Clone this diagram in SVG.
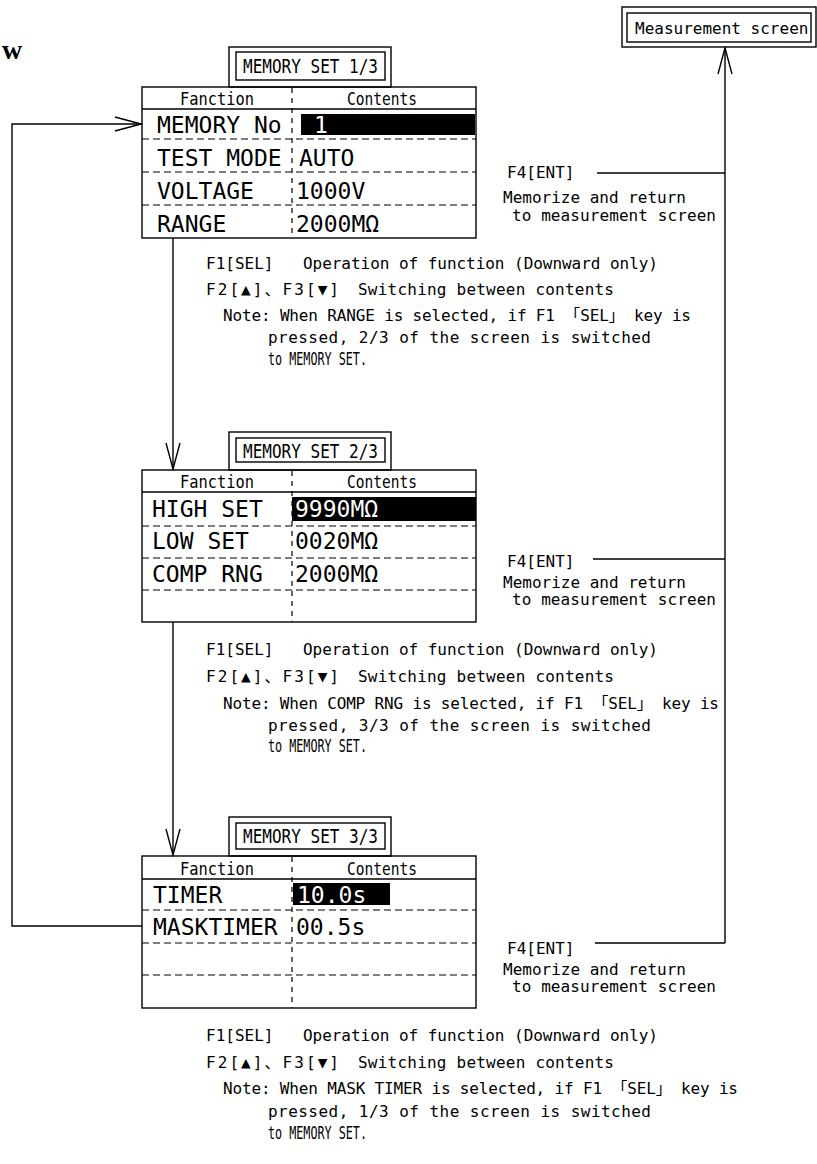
<svg xmlns="http://www.w3.org/2000/svg" width="817" height="1164" viewBox="0 0 817 1164">
<style>
text{font-family:"DejaVu Sans Mono","Liberation Mono","Noto Sans CJK JP",monospace;fill:#000}
.s{font-size:16px}
.t{font-size:20px}
.h{font-size:18px}
.b{font-size:23px}
.m{font-size:18px}
.w{fill:#fff}
.ln{stroke:#000;stroke-width:1.4;fill:none}
.dh{stroke:#000;stroke-width:1.2;stroke-dasharray:7 4;fill:none}
.dv{stroke:#000;stroke-width:1.2;stroke-dasharray:5 5;fill:none}
.hl{fill:#000}
</style>
<defs>
<marker id="ar" viewBox="-28 -10 30 20" refX="0" refY="0" markerWidth="30" markerHeight="20" markerUnits="userSpaceOnUse" orient="auto">
<path d="M-26,-7 L0,0 L-26,7" stroke="#000" stroke-width="1.4" fill="none"/>
</marker>
</defs>
<rect width="817" height="1164" fill="#fff"/>
<text x="2" y="59" style="font-family:'Liberation Serif',serif;font-weight:bold;font-size:28px">w</text>

<g id="connectors">
<path class="ln" d="M142,926 H12 V124 H141" marker-end="url(#ar)"/>
<path class="ln" d="M173,238 V469" marker-end="url(#ar)"/>
<path class="ln" d="M173,622 V855" marker-end="url(#ar)"/>
<path class="ln" d="M725,943 V48" marker-end="url(#ar)"/>
<path class="ln" d="M597,173 H725 M593,559 H725 M595,943 H725"/>
</g>

<g id="measurement-screen">
<rect class="ln" x="622" y="7" width="194" height="40"/>
<rect class="ln" x="627" y="13" width="184" height="29"/>
<text class="s" x="635" y="34">Measurement screen</text>
</g>

<g id="memory-set-1">
<rect class="ln" x="229" y="47" width="162" height="40"/>
<rect class="ln" x="236" y="52" width="149" height="28"/>
<text class="t" x="243" y="73" textLength="135" lengthAdjust="spacingAndGlyphs">MEMORY SET 1/3</text>
<rect class="ln" x="142" y="87" width="334" height="151"/>
<path class="ln" d="M142,109 H476"/>
<path class="dh" d="M142,139 H476 M142,172 H476 M142,205 H476"/>
<path class="dv" d="M292,88 V238"/>
<text class="h" x="180" y="105" textLength="74" lengthAdjust="spacingAndGlyphs">Fanction</text>
<text class="h" x="347" y="105" textLength="70" lengthAdjust="spacingAndGlyphs">Contents</text>
<rect class="hl" x="301" y="114" width="174" height="21"/>
<text class="b" x="157" y="133">MEMORY No</text>
<text class="b w" x="314" y="133">1</text>
<text class="b" x="157" y="166">TEST MODE</text>
<text class="b" x="299" y="166">AUTO</text>
<text class="b" x="157" y="199">VOLTAGE</text>
<text class="b" x="296" y="199">1000V</text>
<text class="b" x="157" y="232">RANGE</text>
<text class="b" x="296" y="232">2000MΩ</text>
</g>

<g id="notes-1">
<text class="s" x="206" y="269">F1[SEL]</text>
<text class="s" x="303" y="269" textLength="355">Operation of function (Downward only)</text>
<text class="s" x="206" y="295" textLength="133">F2[▲]、F3[▼]</text>
<text class="s" x="358" y="295" textLength="256">Switching between contents</text>
<text class="s" x="223" y="321" textLength="468">Note: When RANGE is selected, if F1 「SEL」 key is</text>
<text class="s" x="268" y="343" textLength="383">pressed, 2/3 of the screen is switched</text>
<text class="m" x="268" y="365" textLength="99" lengthAdjust="spacingAndGlyphs">to MEMORY SET.</text>
</g>

<g id="f4-1">
<text class="s" x="507" y="178">F4[ENT]</text>
<text class="s" x="503" y="203" textLength="183">Memorize and return</text>
<text class="s" x="512" y="221" textLength="204">to measurement screen</text>
</g>

<g id="memory-set-2">
<rect class="ln" x="229" y="432" width="162" height="38"/>
<rect class="ln" x="236" y="438" width="149" height="24"/>
<text class="t" x="243" y="458" textLength="135" lengthAdjust="spacingAndGlyphs">MEMORY SET 2/3</text>
<rect class="ln" x="142" y="470" width="334" height="152"/>
<path class="ln" d="M142,492 H476"/>
<path class="dh" d="M142,526 H476 M142,558 H476 M142,590 H476"/>
<path class="dv" d="M292,471 V622"/>
<text class="h" x="180" y="488" textLength="74" lengthAdjust="spacingAndGlyphs">Fanction</text>
<text class="h" x="347" y="488" textLength="70" lengthAdjust="spacingAndGlyphs">Contents</text>
<rect class="hl" x="292" y="497" width="184" height="24"/>
<text class="b" x="152" y="517">HIGH SET</text>
<text class="b w" x="295" y="517">9990MΩ</text>
<text class="b" x="152" y="549">LOW SET</text>
<text class="b" x="295" y="549">0020MΩ</text>
<text class="b" x="152" y="582">COMP RNG</text>
<text class="b" x="295" y="582">2000MΩ</text>
</g>

<g id="notes-2">
<text class="s" x="206" y="655">F1[SEL]</text>
<text class="s" x="303" y="655" textLength="355">Operation of function (Downward only)</text>
<text class="s" x="206" y="682" textLength="133">F2[▲]、F3[▼]</text>
<text class="s" x="358" y="682" textLength="256">Switching between contents</text>
<text class="s" x="223" y="709" textLength="496">Note: When COMP RNG is selected, if F1 「SEL」 key is</text>
<text class="s" x="268" y="731" textLength="383">pressed, 3/3 of the screen is switched</text>
<text class="m" x="268" y="752" textLength="99" lengthAdjust="spacingAndGlyphs">to MEMORY SET.</text>
</g>

<g id="f4-2">
<text class="s" x="507" y="567">F4[ENT]</text>
<text class="s" x="503" y="588" textLength="183">Memorize and return</text>
<text class="s" x="512" y="605" textLength="204">to measurement screen</text>
</g>

<g id="memory-set-3">
<rect class="ln" x="229" y="817" width="162" height="39"/>
<rect class="ln" x="236" y="823" width="149" height="26"/>
<text class="t" x="243" y="843" textLength="135" lengthAdjust="spacingAndGlyphs">MEMORY SET 3/3</text>
<rect class="ln" x="142" y="856" width="334" height="152"/>
<path class="ln" d="M142,879 H476"/>
<path class="dh" d="M142,910 H476 M142,943 H476 M142,975 H476"/>
<path class="dv" d="M292,857 V1008"/>
<text class="h" x="180" y="875" textLength="74" lengthAdjust="spacingAndGlyphs">Fanction</text>
<text class="h" x="347" y="875" textLength="70" lengthAdjust="spacingAndGlyphs">Contents</text>
<rect class="hl" x="293" y="883" width="97" height="22"/>
<text class="b" x="153" y="903">TIMER</text>
<text class="b w" x="297" y="903">10.0s</text>
<text class="b" x="153" y="935">MASKTIMER</text>
<text class="b" x="296" y="935">00.5s</text>
</g>

<g id="notes-3">
<text class="s" x="206" y="1041">F1[SEL]</text>
<text class="s" x="303" y="1041" textLength="355">Operation of function (Downward only)</text>
<text class="s" x="206" y="1068" textLength="133">F2[▲]、F3[▼]</text>
<text class="s" x="358" y="1068" textLength="256">Switching between contents</text>
<text class="s" x="223" y="1094" textLength="515">Note: When MASK TIMER is selected, if F1 「SEL」 key is</text>
<text class="s" x="268" y="1117" textLength="383">pressed, 1/3 of the screen is switched</text>
<text class="m" x="268" y="1139" textLength="99" lengthAdjust="spacingAndGlyphs">to MEMORY SET.</text>
</g>

<g id="f4-3">
<text class="s" x="507" y="954">F4[ENT]</text>
<text class="s" x="503" y="975" textLength="183">Memorize and return</text>
<text class="s" x="512" y="992" textLength="204">to measurement screen</text>
</g>
</svg>
